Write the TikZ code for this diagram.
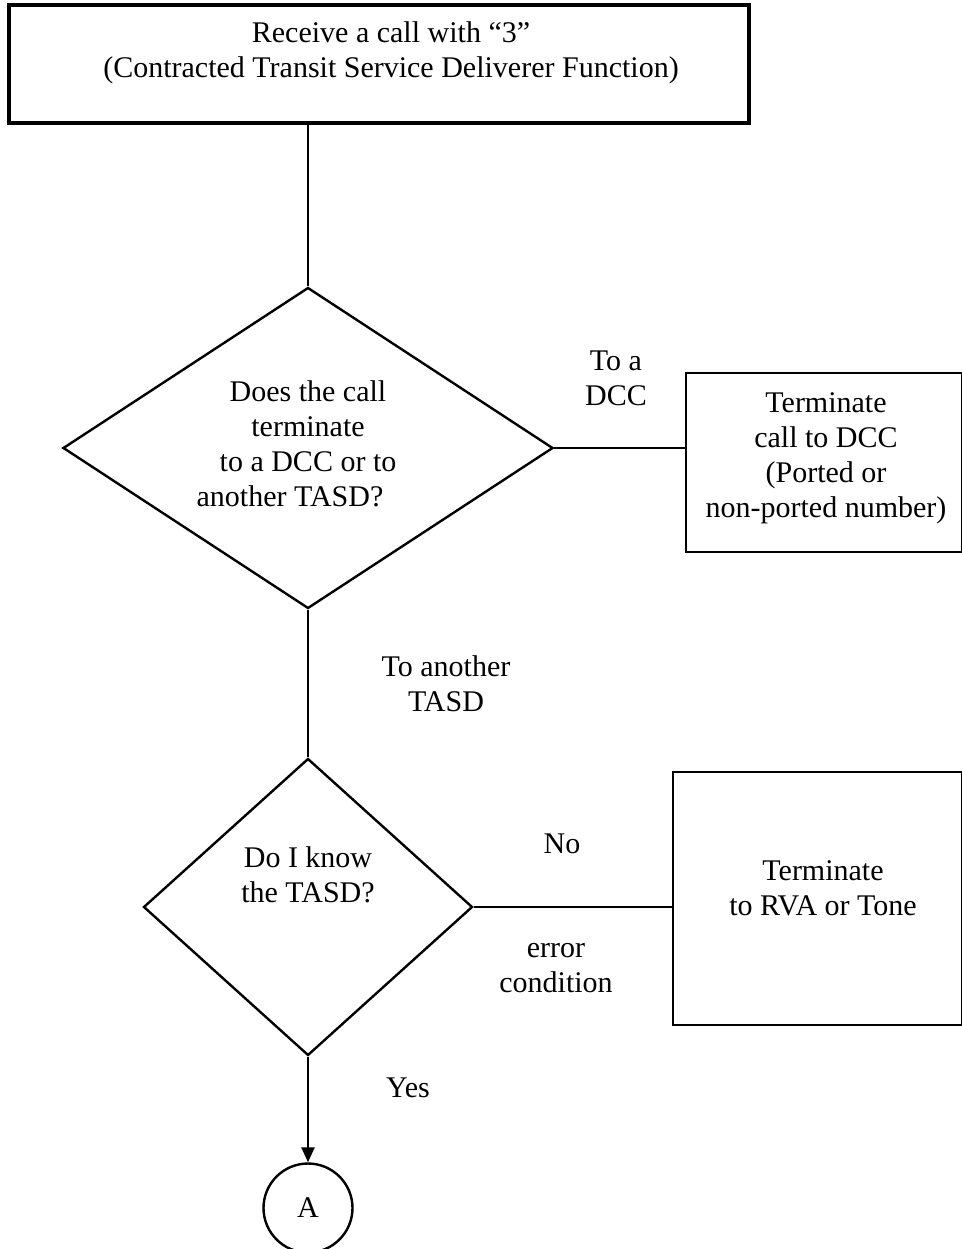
\documentclass[tikz,border=0pt]{standalone}
\usepackage{fontspec}
\setmainfont{Liberation Serif}
\usetikzlibrary{shapes.geometric,arrows.meta}

\begin{document}
\begin{tikzpicture}[x=1pt,y=-1pt,
  every node/.style={font=\fontsize{30}{35}\selectfont},
  box/.style={draw, line width=2.4pt, rectangle, inner sep=0pt, align=center},
  decision/.style={draw, line width=2.4pt, diamond, aspect=1.5, inner sep=0pt},
  terminal/.style={draw, line width=2.4pt, circle, inner sep=0pt, minimum size=89pt},
  txt/.style={align=center, inner sep=0pt, anchor=base},
  link/.style={line width=2.4pt},
  arrowlink/.style={line width=2.4pt, -{Triangle[length=15pt,width=13pt]}}
]
\useasboundingbox (0,0) rectangle (961,1249);

% start box (text anchored at the baseline of its last line)
\node[box, line width=3.2pt, minimum width=740pt, minimum height=118pt] (start) at (379,64) {};
\node[txt] (startt) at (391,78) {Receive a call with “3”\\(Contracted Transit Service Deliverer Function)};

% first decision
\node[decision, minimum width=490pt, minimum height=321pt] (q1) at (308,448) {};
\node[txt] (q1t) at (308,506) {Does the call\\terminate\\to a DCC or to\\another TASD?\hspace*{36pt}};

% terminate to DCC
\node[box, minimum width=276pt, minimum height=179pt] (dcc) at (824,462.5) {};
\node[txt] (dcct) at (826,517) {Terminate\\call to DCC\\(Ported or\\non-ported number)};

% second decision
\node[decision, minimum width=329pt, minimum height=297pt] (q2) at (308,907) {};
\node[txt] (q2t) at (308,902) {Do I know\\the TASD?};

% terminate to RVA or tone
\node[box, minimum width=289pt, minimum height=253pt] (rva) at (817.5,898.5) {};
\node[txt] (rvat) at (823,915) {Terminate\\to RVA or Tone};

% off-page connector
\node[terminal] (A) at (308,1208) {A};

% connectors
\draw[link] (q1.north |- start.south) -- (q1.north);
\draw[link] (q1.east) -- (q1.east -| dcc.west);
\draw[link] (q1.south) -- (q2.north);
\draw[link] (q2.east) -- (q2.east -| rva.west);
\draw[arrowlink] (q2.south) -- (A.north);

% branch labels
\node[txt] (ldcc) at (616,405) {To a\\DCC};
\node[txt] (ltasd) at (446,711) {To another\\TASD};
\node[txt] (lno) at (562,853) {No};
\node[txt] (lerr) at (556,992) {error\\condition};
\node[txt] (lyes) at (408,1097) {Yes};
\end{tikzpicture}
\end{document}
